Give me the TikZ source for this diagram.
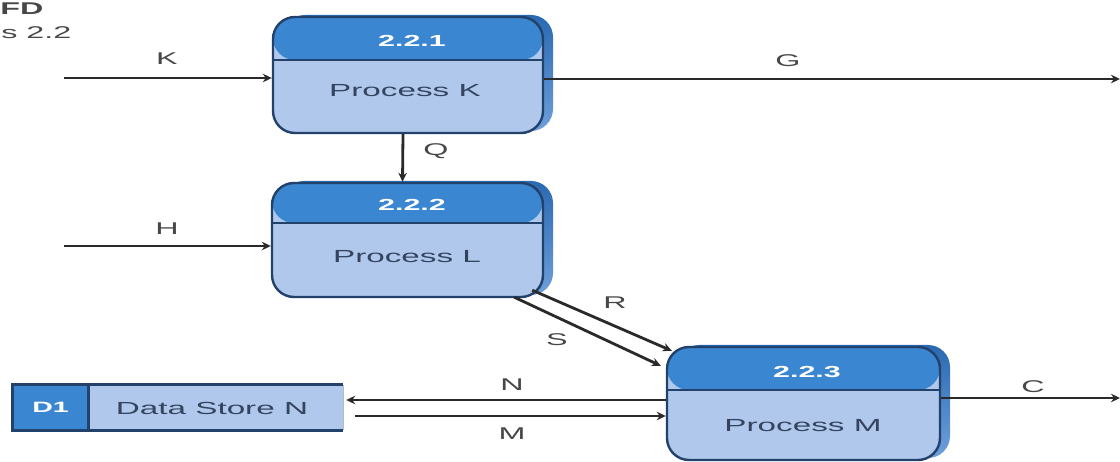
\documentclass[tikz,border=0pt]{standalone}
\usepackage{fontspec}
\setmainfont{Liberation Sans}
\usetikzlibrary{arrows.meta,shadows}
\definecolor{hdrblue}{HTML}{3A86D0}
\definecolor{bodyblue}{HTML}{AFC8EC}
\definecolor{edgeblue}{HTML}{22426B}
\definecolor{shdark}{HTML}{2A69B2}
\definecolor{shlight}{HTML}{6E9FDA}
\definecolor{ink}{HTML}{34445F}
\definecolor{lblgray}{HTML}{474747}
\definecolor{wire}{HTML}{2A2A2A}
\begin{document}
\begin{tikzpicture}[x=1pt,y=-1pt,
  txt/.style={font=\fontsize{17}{20}\selectfont, xscale=1.9, inner sep=0pt},
  numtxt/.style={txt, font=\fontsize{16}{20}\selectfont\bfseries, text=white},
  boxtxt/.style={txt, font=\fontsize{17.5}{20}\selectfont, text=ink},
  lbl/.style={txt, text=lblgray},
  proc/.style n args={3}{draw=edgeblue, line width=2.4pt, fill=bodyblue,
    rounded corners=22pt, inner sep=0pt, minimum width=#1, minimum height=#2,
    general shadow={shadow xshift=10pt, shadow yshift=2pt, top color=shdark, bottom color=shlight},
    path picture={
      \fill[hdrblue] (path picture bounding box.north west) rectangle ([yshift=-#3]path picture bounding box.north east);
      \draw[edgeblue, line width=2.4pt] ([yshift=-#3]path picture bounding box.north west) -- ([yshift=-#3]path picture bounding box.north east);
    }},
  flow/.style={draw=wire, line width=2.8pt, -{Stealth[length=9pt,width=8.5pt]}},
]
\useasboundingbox (0,0) rectangle (1120,462);

% heading, partly cut at the left border
\node[txt, anchor=west, text=lblgray, font=\fontsize{17}{20}\selectfont\bfseries] (ttl1) at (0,9) {FD};
\node[txt, anchor=west, text=lblgray] (ttl2) at (1,33) {s 2.2};

% processes
\node[proc={270pt}{116pt}{43pt}] (p1) at (408,75) {};
\node[proc={271pt}{114pt}{40pt}] (p2) at (407.5,240) {};
\node[proc={273pt}{113pt}{43pt}] (p3) at (803.5,403.5) {};

\node[numtxt] (n1) at (412,41) {2.2.1};
\node[boxtxt] (t1) at (405,91) {Process K};
\node[numtxt] (n2) at (412,205) {2.2.2};
\node[boxtxt] (t2) at (407,257) {Process L};
\node[numtxt] (n3) at (807,372) {2.2.3};
\node[boxtxt] (t3) at (803,426) {Process M};

% data store
\node[fill=bodyblue, inner sep=0pt, minimum width=330pt, minimum height=45pt] (ds) at (178,407.5) {};
\node[fill=hdrblue, inner sep=0pt, minimum width=75pt, minimum height=45pt] (d1) at (50.5,407.5) {};
\draw[edgeblue!35, line width=1pt] (ds.north east) -- (ds.south east);
\draw[edgeblue, line width=2.8pt] (ds.north east) -- (ds.north west) -- (ds.south west) -- (ds.south east);
\draw[edgeblue, line width=2.8pt] (d1.north east) -- (d1.south east);
\node[numtxt, font=\fontsize{15}{18}\selectfont\bfseries] (d1t) at (d1) {D1};
\node[boxtxt] (dst) at (212,408) {Data Store N};

% free ends of the flows
\coordinate (kin) at (64,78);
\coordinate (gout) at (1120,79);
\coordinate (hin) at (64,246);
\coordinate (cout) at (1120,398);
\coordinate (nrow) at (0,400);
\coordinate (mrow) at (0,416);

% flows
\draw[flow] (kin) -- (kin -| p1.west);
\draw[flow] (p1.east |- gout) -- (gout);
\draw[flow] ([xshift=-5pt]p1.south) -- ([xshift=-5pt]p2.north);
\draw[flow] (hin) -- (hin -| p2.west);
\draw[flow] ([xshift=-12pt,yshift=8pt]p2.south east) -- ([xshift=6pt,yshift=-5pt]p3.north west);
\draw[flow] ([xshift=-30pt,yshift=1pt]p2.south east) -- ([xshift=-5pt,yshift=-20pt]p3.north west);
\draw[flow] (p3.west |- nrow) -- ([xshift=3pt]ds.east |- nrow);
\draw[flow] ([xshift=12pt]ds.east |- mrow) -- (p3.west |- mrow);
\draw[flow] (p3.east |- cout) -- (cout);

% flow labels
\node[lbl] (lk) at (167,59) {K};
\node[lbl] (lg) at (788,61) {G};
\node[lbl] (lq) at (436,151) {Q};
\node[lbl] (lh) at (167,229) {H};
\node[lbl] (lr) at (615,303) {R};
\node[lbl] (ls) at (557,340) {S};
\node[lbl] (ln) at (512,385) {N};
\node[lbl] (lm) at (512,434) {M};
\node[lbl] (lc) at (1033,387) {C};
\end{tikzpicture}
\end{document}
